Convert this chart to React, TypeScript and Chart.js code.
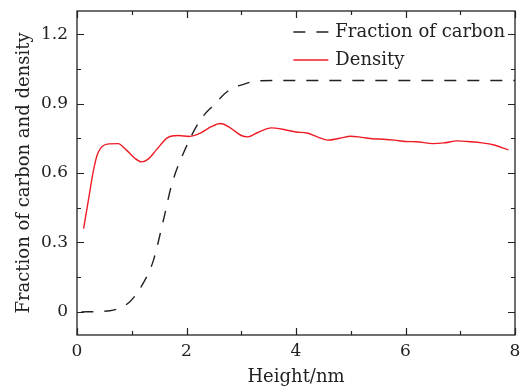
import { useEffect, useRef } from 'react';
import { Chart, registerables } from 'chart.js';
Chart.register(...registerables);

const carbonX = [0.08, 0.6, 0.97, 1.21, 1.39, 1.58, 1.73, 1.97, 2.25, 2.48, 2.79, 3.04, 3.25, 3.6, 4.5, 5.5, 6.5, 7.5, 8.0];
const carbonY = [0.0, 0.005, 0.045, 0.124, 0.218, 0.398, 0.55, 0.70, 0.828, 0.89, 0.96, 0.983, 0.997, 1.0, 1.0, 1.0, 1.0, 1.0, 1.0];

const densityX = [0.12, 0.21, 0.3, 0.38, 0.55, 0.75, 0.9, 1.05, 1.18, 1.3, 1.45, 1.65, 1.85, 2.05, 2.25, 2.45, 2.62, 2.8, 3.0, 3.12, 3.3, 3.55, 3.8, 4.0, 4.2, 4.4, 4.58, 4.8, 5.0, 5.2, 5.4, 5.6, 5.8, 6.0, 6.2, 6.5, 6.7, 6.95, 7.2, 7.4, 7.6, 7.88];
const densityY = [0.36, 0.485, 0.61, 0.685, 0.725, 0.727, 0.70, 0.665, 0.648, 0.66, 0.70, 0.752, 0.762, 0.758, 0.772, 0.800, 0.814, 0.795, 0.762, 0.756, 0.775, 0.795, 0.787, 0.777, 0.773, 0.755, 0.742, 0.750, 0.759, 0.754, 0.748, 0.746, 0.742, 0.736, 0.735, 0.727, 0.730, 0.739, 0.735, 0.730, 0.722, 0.70];

const seriesLabels = ['Fraction of carbon', 'Density'];
const xTicks = [0, 2, 4, 6, 8];
const xMinor = [1, 3, 5, 7];
const yTicks = [0, 0.3, 0.6, 0.9, 1.2];
const yTickLabels = ['0', '0.3', '0.6', '0.9', '1.2'];
const yMinor = [0.15, 0.45, 0.75, 1.05];
const xTitle = 'Height/nm';
const yTitle = 'Fraction of carbon and density';

const FONT = "'DejaVu Serif', serif";
const AXIS_COLOR = '#222';

const framePlugin = {
  id: 'frame',
  afterDraw(chart: any) {
    const { ctx, chartArea: a, scales } = chart;
    const xs = scales.x, ys = scales.y;
    ctx.save();
    ctx.strokeStyle = AXIS_COLOR;
    ctx.lineWidth = 1.3;
    ctx.strokeRect(a.left, a.top, a.right - a.left, a.bottom - a.top);
    ctx.lineWidth = 1.2;
    const tick = (vals: number[], len: number, axis: 'x' | 'y') => {
      vals.forEach((v) => {
        ctx.beginPath();
        if (axis === 'x') {
          const px = Math.round(xs.getPixelForValue(v)) + 0.5;
          ctx.moveTo(px, a.bottom); ctx.lineTo(px, a.bottom - len);
          ctx.moveTo(px, a.top); ctx.lineTo(px, a.top + len);
        } else {
          const py = Math.round(ys.getPixelForValue(v)) + 0.5;
          ctx.moveTo(a.left, py); ctx.lineTo(a.left + len, py);
          ctx.moveTo(a.right, py); ctx.lineTo(a.right - len, py);
        }
        ctx.stroke();
      });
    };
    tick(xTicks, 7, 'x');
    tick(xMinor, 4, 'x');
    tick(yTicks, 7, 'y');
    tick(yMinor, 4, 'y');

    // legend
    ctx.font = `18px ${FONT}`;
    ctx.textBaseline = 'middle';
    ctx.textAlign = 'left';
    const widths = chart.data.datasets.map((d: any) => ctx.measureText(d.label).width);
    const maxW = Math.max(...widths);
    const textLeft = a.right - 10 - maxW;
    const sampleEnd = textLeft - 7;
    const sampleStart = sampleEnd - 35;
    chart.data.datasets.forEach((d: any, i: number) => {
      const y = a.top + 21 + i * 28;
      ctx.beginPath();
      ctx.strokeStyle = d.borderColor;
      ctx.lineWidth = d.borderWidth;
      ctx.setLineDash(d.borderDash || []);
      ctx.lineDashOffset = 0;
      ctx.moveTo(sampleStart, y);
      ctx.lineTo(sampleEnd, y);
      ctx.stroke();
      ctx.setLineDash([]);
      ctx.fillStyle = '#222';
      ctx.fillText(d.label, textLeft, y);
    });
    ctx.restore();
  },
};

export default function App() {
  const ref = useRef<HTMLCanvasElement>(null);
  useEffect(() => {
    document.body.style.margin = '0';
    const canvas = ref.current!;
    const chart = new Chart(canvas, {
      type: 'line',
      data: {
        datasets: [
          {
            label: seriesLabels[0],
            data: carbonX.map((x, i) => ({ x, y: carbonY[i] })),
            borderColor: '#222',
            borderWidth: 1.4,
            borderDash: [12, 11],
            pointRadius: 0,
            cubicInterpolationMode: 'monotone',
            fill: false,
          },
          {
            label: seriesLabels[1],
            data: densityX.map((x, i) => ({ x, y: densityY[i] })),
            borderColor: '#ee1c25',
            borderWidth: 1.4,
            pointRadius: 0,
            cubicInterpolationMode: 'monotone',
            fill: false,
          },
        ],
      },
      options: {
        responsive: false,
        animation: false,
        layout: { padding: { top: 11, right: 8, left: 0, bottom: 0 } },
        plugins: { legend: { display: false }, tooltip: { enabled: false } },
        scales: {
          x: {
            type: 'linear',
            min: 0,
            max: 8,
            afterBuildTicks: (s: any) => { s.ticks = xTicks.map((v) => ({ value: v })); },
            afterFit: (s: any) => { s.height = 53; s.paddingLeft = 0; s.paddingRight = 0; },
            grid: { display: false, drawTicks: false },
            border: { display: false },
            ticks: { padding: 6, color: '#222', font: { family: FONT, size: 17 }, callback: (v: any) => String(v) },
            title: { display: true, text: xTitle, color: '#222', font: { family: FONT, size: 18 }, padding: { top: 0, bottom: 0 } },
          },
          y: {
            type: 'linear',
            min: -0.1,
            max: 1.3,
            afterBuildTicks: (s: any) => { s.ticks = yTicks.map((v) => ({ value: v })); },
            afterFit: (s: any) => { s.width = 77; s.paddingTop = 0; s.paddingBottom = 0; },
            grid: { display: false, drawTicks: false },
            border: { display: false },
            ticks: { padding: 9, color: '#222', font: { family: FONT, size: 17 }, callback: (_v: any, i: number) => yTickLabels[i] },
            title: { display: true, text: yTitle, color: '#222', font: { family: FONT, size: 18 }, padding: { top: 14, bottom: 0 } },
          },
        },
      },
      plugins: [framePlugin],
    } as any);
    return () => chart.destroy();
  }, []);
  return <canvas ref={ref} width={523} height={388} style={{ display: 'block' }} />;
}
